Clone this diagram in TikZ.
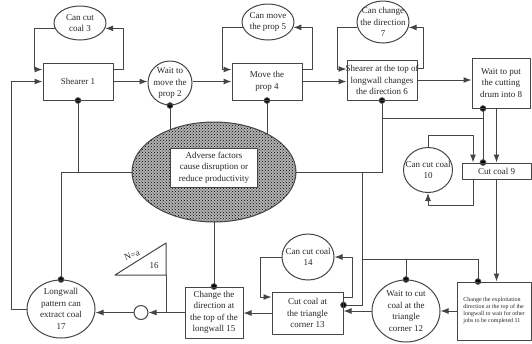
\documentclass[tikz,border=0pt]{standalone}
\usepackage{fontspec}
\setmainfont{Liberation Serif}
\usetikzlibrary{shapes.geometric,arrows.meta,patterns,backgrounds}
\definecolor{linec}{HTML}{454545}
\tikzset{
  box/.style={rectangle,draw=linec,line width=1pt,inner sep=0pt},
  place/.style={ellipse,draw=linec,line width=1pt,inner sep=0pt},
  txt/.style={align=center,inner sep=0pt,font=\fontsize{9}{11.5}\selectfont,text=black!85},
  tx/.style={label={[txt]center:#1}},
  line/.style={draw=linec,line width=1pt},
  arr/.style={line,-{Latex[length=8pt,width=6pt]}},
  inhib/.style={line,-{Circle[length=6.5pt,fill=black]},shorten >=-3.25pt},
}
\begin{document}
\begin{tikzpicture}[x=1pt,y=-1pt,line join=round]
\useasboundingbox (0,0) rectangle (532,343);
% top row
\node[place,minimum width=52pt,minimum height=34pt,tx={Can cut\\coal 3}] (c3) at (80,23) {};
\node[box,minimum width=70pt,minimum height=37pt,tx={Shearer 1}] (s1) at (78,81.5) {};
\node[place,minimum width=44pt,minimum height=44pt,tx={Wait to\\move the\\prop 2}] (w2) at (170,83) {};
\node[box,minimum width=70pt,minimum height=37pt,tx={Move the\\prop 4}] (m4) at (267,81.5) {};
\node[place,minimum width=52pt,minimum height=36pt,tx={Can move\\the prop 5}] (c5) at (268,22) {};
\node[box,minimum width=70pt,minimum height=40pt,tx={Shearer at the top of\\longwall changes\\the direction 6}] (s6) at (382,80) {};
\node[place,minimum width=52pt,minimum height=42pt,tx={Can change\\the direction\\7}] (c7) at (383,22) {};
\node[box,minimum width=58pt,minimum height=50pt,tx={Wait to put\\the cutting\\drum into 8}] (w8) at (501,83) {};
% right side
\node[box,minimum width=69pt,minimum height=16pt,tx={Cut coal 9}] (c9) at (496.5,171) {};
\node[place,minimum width=49pt,minimum height=45pt,tx={Can cut coal\\10}] (c10) at (428,170) {};
\node[box,minimum width=74pt,minimum height=58pt,
  label={[txt,align=left,font=\fontsize{6}{7}\selectfont]center:Change the exploitation\\direction at the top of the\\longwall to wait for other\\jobs to be completed 11}] (x11) at (494,311) {};
% bottom row
\node[place,minimum width=68pt,minimum height=62pt,tx={Wait to cut\\coal at the\\triangle\\corner 12}] (w12) at (406,311) {};
\node[box,minimum width=71pt,minimum height=42pt,tx={Cut coal at\\the triangle\\corner 13}] (c13) at (307.5,313) {};
\node[place,minimum width=52pt,minimum height=46pt,tx={Can cut coal\\14}] (c14) at (308,257) {};
\node[box,minimum width=58pt,minimum height=51pt,tx={Change the\\direction at\\the top of the\\longwall 15}] (d15) at (214,312.5) {};
\node[circle,line,minimum size=14pt,inner sep=0pt] (sm) at (141,312.5) {};
\node[place,minimum width=68pt,minimum height=58pt,tx={Longwall\\pattern can\\extract coal\\17}] (l17) at (61,309) {};
% adverse factors
\node[ellipse,draw=linec,line width=1pt,minimum width=164pt,minimum height=100pt,
  preaction={fill=gray!60},pattern=crosshatch dots,pattern color=black] (adv) at (214,172) {};
\node[box,fill=white,minimum width=87pt,minimum height=39pt,txt] (advtxt) at (214,167.5) {Adverse factors\\cause disruption or\\reduce productivity};
% triangle 16
\coordinate (tri-bl) at (115,275);
\coordinate (tri-t) at (166,243);
\coordinate (tri-br) at (166,275);
\draw[line] (tri-bl) -- (tri-t) -- (tri-br) -- cycle;
\node[txt,rotate=20] (n16) at (132,255) {N=a};
\node[txt] (k16) at (154,266) {16};
% flow
\draw[arr] ([yshift=12pt]s1.east) -- ++(10,0) |- (c3.-12);
\draw[arr] (c3.192) -- ++(-20,0) |- ([yshift=12pt]s1.west);
\draw[arr] (l17.west) -- ++(-15,0) |- (s1.west);
\draw[arr] (s1.east) -- (s1.east -| w2.west);
\draw[arr] (w2.east |- m4.west) -- (m4.west);
\draw[arr] (c5.192) -- ++(-20,0) |- ([yshift=12pt]m4.west);
\draw[arr] ([yshift=12pt]m4.east) -- ++(10,0) |- (c5.-12);
\draw[arr] (m4.east) -- (m4.east -| s6.west);
\draw[arr] (c7.192) -- ++(-20,0) |- ([yshift=11pt]s6.west);
\draw[arr] ([yshift=12pt]s6.east) -- ++(6,0) |- (c7.-12);
\draw[arr] (s6.east) -- (s6.east -| w8.west);
\draw[arr] (w8.south -| c9.north) -- (c9.north);
\draw[arr] (c10.north) -- ++(0,-12) -| ([xshift=-23.5pt]c9.north);
\draw[arr] ([xshift=-23.5pt]c9.south) -- ++(0,26) -| (c10.south);
\draw[arr] (c9.south) -- (c9.south |- x11.north);
\draw[arr] (x11.west) -- (x11.west -| w12.east);
\draw[arr] (w12.west) -- (w12.west -| c13.east);
\draw[arr] (c14.west) -- ++(-21,0) |- ([yshift=16pt]c13.west);
\draw[arr] ([yshift=16pt]c13.east) -- ++(9,0) |- (c14.east);
\draw[arr] (c13.west) -- (c13.west -| d15.east);
\draw[arr] (d15.west) -- (sm.east);
\draw[line] (tri-br) -- (tri-br |- sm.east);
\draw[arr] (sm.west) -- (sm.west -| l17.east);
% disruption links
\begin{scope}[on background layer]
\coordinate (j1) at (382,118);
\coordinate (j2) at (483,118);
\coordinate (j3) at (362,172);
\coordinate (j4) at (362,259);
\draw[inhib] (adv.center) -| (l17.north);
\draw[inhib] (adv.center -| s1.south) -- (s1.south);
\draw[inhib] (adv.center -| w2.south) -- (w2.south);
\draw[inhib] (adv.center -| m4.south) -- (m4.south);
\draw[inhib] (adv.center) -| (s6.south);
\draw[line] (j1) -- (j2);
\draw[inhib] (j2) -- (j2 |- w8.south);
\draw[inhib] (j2) -- (j2 |- c9.north);
\draw[inhib] (j3) |- ([yshift=8pt]c13.east);
\draw[inhib] (j4) -| ([xshift=-16pt]x11.north);
\draw[inhib] (j4 -| w12.north) -- (w12.north);
\draw[inhib] (adv.center) -- (d15.north);
\end{scope}
\end{tikzpicture}
\end{document}
